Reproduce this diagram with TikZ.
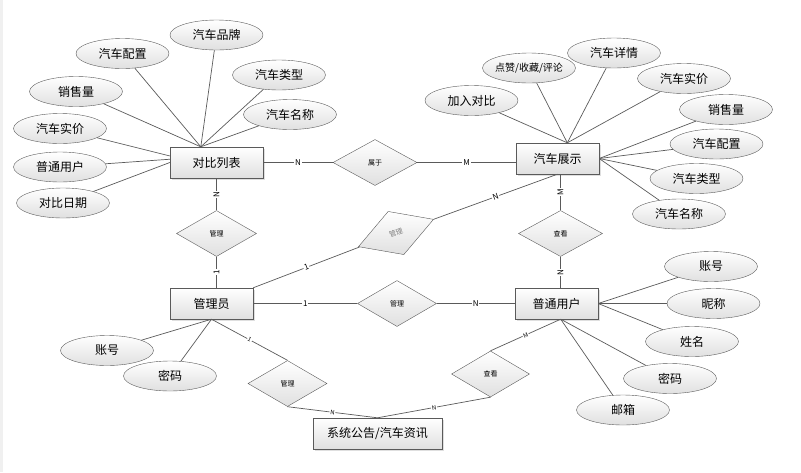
\documentclass[tikz,border=0pt]{standalone}
\usepackage{fontspec}
\setmainfont{Noto Sans CJK SC}
\usepackage{tikz}
\definecolor{edge}{HTML}{5a5a5a}
\definecolor{shade}{HTML}{e0e0e0}
\usetikzlibrary{shapes, positioning, shadows}

\begin{document}
\begin{tikzpicture}[
    x=1pt, y=-1pt,
    entity/.style={draw=edge, rectangle, minimum width=83pt, minimum height=31pt, top color=white, bottom color=shade, drop shadow={opacity=0.25, shadow xshift=1.5pt, shadow yshift=-1.5pt}, font=\fontsize{12}{14}\selectfont},
    attr/.style={draw=edge, ellipse, minimum width=93pt, minimum height=30pt, top color=white, bottom color=shade, font=\fontsize{12}{14}\selectfont},
    rel/.style={draw=edge, diamond, minimum width=84pt, minimum height=46pt, inner sep=0pt, top color=white, bottom color=shade, font=\fontsize{7}{8}\selectfont},
    link/.style={draw=edge, line width=0.7pt},
    lbl/.style={fill=white, inner sep=0.8pt, font=\fontsize{8}{9}\selectfont}
]
    \useasboundingbox (0,0) rectangle (801,472);
    \fill[gray!12] (0,0) rectangle (2.5,472);

    % 对比列表
    \node[entity, minimum width=93pt] (dblb) at (216.5,162.5) {对比列表};
    \node[attr] (dbPP) at (216.5,35) {汽车品牌};
    \node[attr] (dbPZ) at (122.5,53.5) {汽车配置};
    \node[attr] (dbLX) at (279,75) {汽车类型};
    \node[attr] (dbXL) at (76,91.5) {销售量};
    \node[attr] (dbMC) at (290,114.5) {汽车名称};
    \node[attr] (dbSJ) at (60,128.5) {汽车实价};
    \node[attr] (dbYH) at (60,167) {普通用户};
    \node[attr] (dbRQ) at (63,203) {对比日期};
    \foreach \a in {dbPP, dbPZ, dbLX, dbXL, dbMC}
        \draw[link] (\a) -- (dblb.135);
    \draw[link] (dbSJ) -- (dblb.172);
    \draw[link] (dbYH) -- (dblb.176);
    \draw[link] (dbRQ) -- (dblb.west);

    % 汽车展示
    \node[entity] (qczs) at (557.5,158.5) {汽车展示};
    \node[attr] (zsDB) at (471.5,100.5) {加入对比};
    \node[attr, font=\fontsize{10}{12}\selectfont] (zsDZ) at (529,68) {\makebox[0pt]{点赞/收藏/评论}};
    \node[attr] (zsXQ) at (614,53) {汽车详情};
    \node[attr] (zsSJ) at (684,78.5) {汽车实价};
    \node[attr] (zsXL) at (726,109.5) {销售量};
    \node[attr] (zsPZ) at (716.5,144) {汽车配置};
    \node[attr] (zsLX) at (696.5,178.5) {汽车类型};
    \node[attr] (zsMC) at (679,214) {汽车名称};
    \foreach \a in {zsDB, zsDZ, zsXQ, zsSJ}
        \draw[link] (\a) -- (qczs.58);
    \foreach \a in {zsXL, zsPZ, zsLX, zsMC}
        \draw[link] (\a) -- (qczs.east);

    % 属于
    \node[rel] (sy) at (375,162.5) {属于};
    \draw[link] (dblb) -- node[lbl]{N} (sy);
    \draw[link] (sy) -- node[lbl]{M} (sy -| qczs.west);

    % 管理员
    \node[entity] (gly) at (211.5,303.5) {管理员};
    \node[attr] (glZH) at (107,350.5) {账号};
    \node[attr] (glMM) at (170,376) {密码};
    \draw[link] (glZH) -- (gly.south);
    \draw[link] (glMM) -- (gly.south);

    % 普通用户
    \node[entity] (ptyh) at (556.5,303.5) {普通用户};
    \node[attr] (yhZH) at (711,266.5) {账号};
    \node[attr] (yhNC) at (713.5,303.5) {昵称};
    \node[attr] (yhXM) at (692,341.5) {姓名};
    \node[attr] (yhMM) at (670,378.5) {密码};
    \node[attr] (yhYX) at (623,410) {邮箱};
    \foreach \a in {yhZH, yhNC, yhXM}
        \draw[link] (\a) -- (ptyh.east);
    \foreach \a in {yhMM, yhYX}
        \draw[link] (\a) -- (ptyh.-75);

    % 系统公告
    \node[entity, minimum width=129pt] (xtgg) at (377.5,433.5) {系统公告/汽车资讯};

    % 管理 (对比列表)
    \node[rel, minimum width=80pt] (gl1) at (216.5,233.5) {管理};
    \draw[link] (dblb) -- node[lbl, rotate=90]{N} (gl1);
    \draw[link] (gl1) -- node[lbl, rotate=90]{1} (gl1 |- gly.north);

    % 管理 (汽车展示)
    \node[rel, rotate=20, minimum width=80pt, text=gray] (gl2) at (396,233) {管理};
    \draw[link] (gly.north east) -- node[lbl, sloped]{1} (gl2) -- node[lbl, sloped]{N} (qczs.south);

    % 查看 (汽车展示)
    \node[rel] (ck1) at (560.5,233.5) {查看};
    \draw[link] (ck1 |- qczs.south) -- node[lbl, rotate=90]{M} (ck1);
    \draw[link] (ck1) -- node[lbl, rotate=90]{N} (ck1 |- ptyh.north);

    % 管理 (普通用户)
    \node[rel, minimum width=79pt] (gl3) at (397,303.5) {管理};
    \draw[link] (gly) -- node[lbl]{1} (gl3) -- node[lbl]{N} (ptyh);

    % 管理 (系统公告)
    \node[rel, minimum width=79pt] (gl4) at (287.5,383.5) {管理};
    \draw[link] (gly.south) -- node[lbl, sloped, font=\fontsize{6}{7}\selectfont]{1} (gl4.north);
    \draw[link] (gl4.south) -- node[lbl, sloped, font=\fontsize{6}{7}\selectfont]{N} (xtgg.north);

    % 查看 (系统公告)
    \node[rel, minimum width=78pt] (ck2) at (490.5,374) {查看};
    \draw[link] (ptyh.-75) -- node[lbl, sloped, font=\fontsize{6}{7}\selectfont]{M} (ck2.north);
    \draw[link] (ck2.south) -- node[lbl, sloped, font=\fontsize{6}{7}\selectfont]{N} (xtgg.north);
\end{tikzpicture}
\end{document}
